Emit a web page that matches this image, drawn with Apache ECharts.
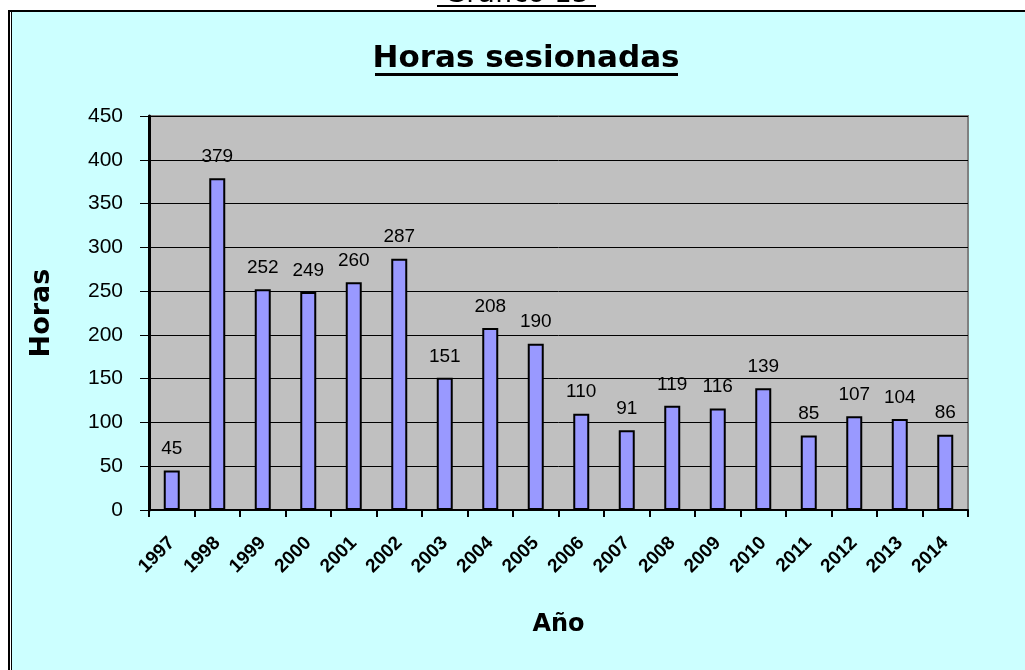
<!DOCTYPE html>
<html>
<head>
<meta charset="utf-8">
<title>Horas sesionadas</title>
<script src="https://cdn.jsdelivr.net/npm/echarts@6/dist/echarts.min.js"></script>
<style>
  html, body { margin: 0; padding: 0; background: #FFF; }
  #chart { width: 1025px; height: 670px; }
</style>
</head>
<body>
<div id="chart"></div>
<script>
  // datos
  var years = ['1997', '1998', '1999', '2000', '2001', '2002', '2003', '2004', '2005',
               '2006', '2007', '2008', '2009', '2010', '2011', '2012', '2013', '2014'];
  var hours = [45, 379, 252, 249, 260, 287, 151, 208, 190, 110, 91, 119, 116, 139, 85, 107, 104, 86];
  var yTicks = [0, 50, 100, 150, 200, 250, 300, 350, 400, 450];

  var myChart = echarts.init(document.getElementById('chart'));
  myChart.setOption({
    backgroundColor: '#FFFFFF',
    animation: false,
    graphic: [
      // marco celeste
      { type: 'rect', z: -10, shape: { x: 8, y: 10, width: 1100, height: 700 }, style: { fill: '#CCFFFF' } },
      { type: 'rect', z: -9, shape: { x: 8, y: 10, width: 1100, height: 2 }, style: { fill: '#000' } },
      { type: 'rect', z: -9, shape: { x: 8, y: 10, width: 2, height: 700 }, style: { fill: '#000' } },
      { type: 'rect', z: -9, shape: { x: 10, y: 12, width: 1, height: 700 }, style: { fill: '#FFF' } },
      { type: 'rect', z: -9, shape: { x: 11, y: 12, width: 1, height: 700 }, style: { fill: '#000' } },
      // "Gráfico 15" cortado arriba
      {
        type: 'text', x: 517, y: -5,
        style: { text: 'Gráfico 15', font: '28px "DejaVu Sans"', fill: '#000', textAlign: 'center', textVerticalAlign: 'middle' }
      },
      { type: 'rect', shape: { x: 437, y: 5, width: 159, height: 2 }, style: { fill: '#000' } },
      // titulo subrayado
      {
        type: 'text', x: 526, y: 59,
        style: { text: 'Horas sesionadas', font: 'bold 31px "DejaVu Sans"', fill: '#000', textAlign: 'center', textVerticalAlign: 'middle' }
      },
      { type: 'rect', shape: { x: 375, y: 73, width: 303, height: 3 }, style: { fill: '#000' } }
    ],
    grid: {
      left: 149,
      right: 57,
      top: 116,
      bottom: 160,
      show: true,
      backgroundColor: '#C0C0C0',
      borderColor: '#808080',
      borderWidth: 2
    },
    xAxis: {
      type: 'category',
      data: years,
      name: 'Año',
      nameLocation: 'middle',
      nameGap: 103,
      nameTextStyle: { fontFamily: 'DejaVu Sans', fontWeight: 'bold', fontSize: 24, color: '#000' },
      axisLine: { lineStyle: { color: '#000', width: 2 } },
      axisTick: { show: true, length: 7, lineStyle: { color: '#000', width: 2 } },
      axisLabel: {
        rotate: 45,
        margin: 30,
        interval: 0,
        fontFamily: 'Arial',
        fontWeight: 'bold',
        fontSize: 19,
        color: '#000'
      },
      splitLine: { show: false }
    },
    yAxis: {
      type: 'value',
      min: 0,
      max: 450,
      interval: 50,
      name: 'Horas',
      nameLocation: 'middle',
      nameRotate: 90,
      nameGap: 94,
      nameTextStyle: { fontFamily: 'DejaVu Sans', fontWeight: 'bold', fontSize: 27, color: '#000' },
      axisLine: { show: true, lineStyle: { color: '#000', width: 3 } },
      axisTick: { show: true, length: 9, lineStyle: { color: '#000', width: 1 } },
      axisLabel: {
        margin: 26,
        fontFamily: 'Arial',
        fontSize: 21,
        color: '#000',
        formatter: function (v) { return yTicks.indexOf(v) >= 0 ? String(v) : ''; }
      },
      splitLine: { show: true, lineStyle: { color: '#000', width: 1 } }
    },
    series: [{
      type: 'bar',
      data: hours,
      barWidth: 16,
      itemStyle: {
        color: '#9999FF',
        borderColor: '#000',
        borderWidth: 2
      },
      label: {
        show: true,
        position: 'top',
        distance: 12,
        fontFamily: 'Arial',
        fontSize: 19,
        color: '#000'
      }
    }]
  });
</script>
</body>
</html>
